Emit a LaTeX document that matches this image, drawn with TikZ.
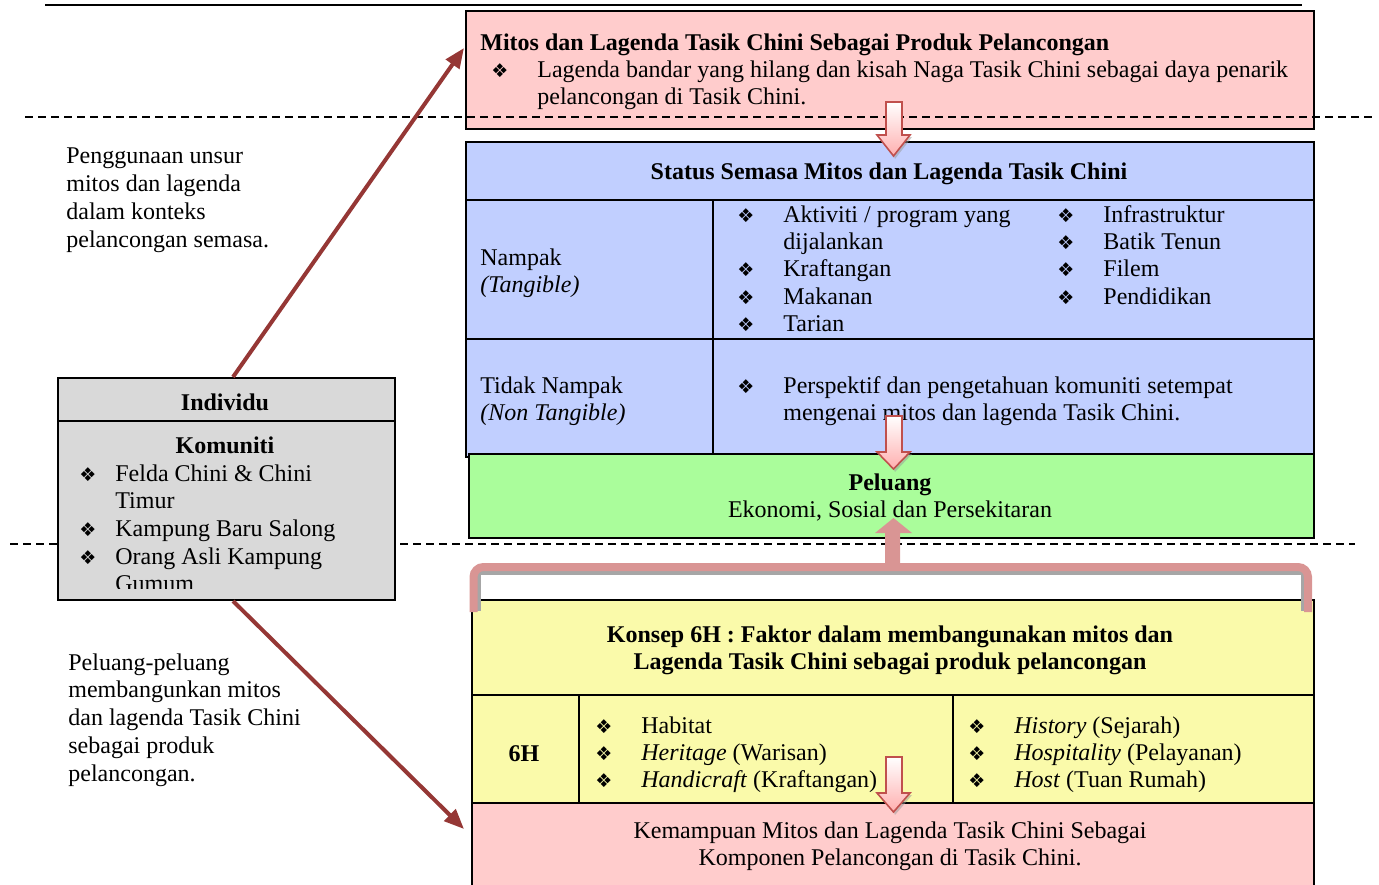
\documentclass[tikz,border=0pt]{standalone}
\usepackage{fontspec}
\setmainfont{Liberation Serif}
\newfontfamily\dejavu{DejaVu Sans}
\usetikzlibrary{arrows.meta}

\definecolor{pinkfill}{RGB}{255,204,204}
\definecolor{bluefill}{RGB}{193,207,255}
\definecolor{greenfill}{RGB}{170,253,155}
\definecolor{yellowfill}{RGB}{250,250,170}
\definecolor{greyfill}{RGB}{217,217,217}
\definecolor{darkred}{RGB}{149,55,53}
\definecolor{brackpink}{RGB}{217,149,148}
\definecolor{arrowred}{RGB}{192,80,77}
\definecolor{arrowpink}{RGB}{255,175,175}

\newcommand\bul{{\dejavu\fontsize{9.5}{9.5}\selectfont ❖}}
\newcommand\blist[2]{\begin{tabular}[t]{@{}p{#1}@{}l@{}}#2\end{tabular}}
\newcommand\lines[2][l]{\begin{tabular}[t]{@{}#1@{}}#2\end{tabular}}

\begin{document}
\begin{tikzpicture}
	[x=0.5pt,y=-0.5pt,every node/.style={inner sep=0pt,font=\fontsize{12}{13.7}\selectfont},
	box/.style={draw,line width=1pt,anchor=north west},
	dashline/.style={dash pattern=on 4pt off 2.5pt,line width=0.6pt},
	hollow/.style={draw=arrowred,line width=0.8pt,top color=white,bottom color=arrowpink},
	redarrow/.style={draw=darkred,line width=2pt,-{Triangle[length=10pt,width=8pt]}}]
	\useasboundingbox (0,0) rectangle (1379,884);
	
	\draw[line width=1pt] (45,5) -- (1302,5);
	
	% mitos sebagai produk
	\node[box,fill=pinkfill,minimum width=424pt,minimum height=59pt] (mitos) at (465,10) {};
	\node[anchor=base west,font=\fontsize{12}{13.7}\selectfont\bfseries] (mitostitle) at (480,50)
		{Mitos dan Lagenda Tasik Chini Sebagai Produk Pelancongan};
	\node[anchor=base west] (mitoslist) at (491,77)
		{\blist{23pt}{\bul & Lagenda bandar yang hilang dan kisah Naga Tasik Chini sebagai daya penarik\\
			& pelancongan di Tasik Chini.}};
	
	\draw[dashline] (25,117) -- (1375,117);
	
	% status semasa
	\node[box,fill=bluefill,minimum width=424pt,minimum height=157.5pt] (status) at (465,141) {};
	\draw[line width=1pt] (465,200) -- (1313,200);
	\draw[line width=1pt] (465,339) -- (1313,339);
	\draw[line width=1pt] (713,200) -- (713,453);
	\node[anchor=base,font=\fontsize{12}{13.7}\selectfont\bfseries] (statustitle) at (889,179)
		{Status Semasa Mitos dan Lagenda Tasik Chini};
	\node[anchor=base west] (nampak) at (480,265) {\lines{Nampak\\ \textit{(Tangible)}}};
	\node[anchor=base west] (nampaka) at (737,222)
		{\blist{23pt}{\bul & Aktiviti / program yang\\ & dijalankan\\ \bul & Kraftangan\\
			\bul & Makanan\\ \bul & Tarian}};
	\node[anchor=base west] (nampakb) at (1057,222)
		{\blist{23pt}{\bul & Infrastruktur\\ \bul & Batik Tenun\\ \bul & Filem\\ \bul & Pendidikan}};
	\node[anchor=base west] (tidak) at (480,393) {\lines{Tidak Nampak\\ \textit{(Non Tangible)}}};
	\node[anchor=base west] (tidaka) at (737,393)
		{\blist{23pt}{\bul & Perspektif dan pengetahuan komuniti setempat\\
			& mengenai mitos dan lagenda Tasik Chini.}};
	
	% peluang
	\node[box,fill=greenfill,minimum width=422.5pt,minimum height=42pt] (peluang) at (468,453) {};
	\node[anchor=base] (peluangtext) at (890,490)
		{\lines[c]{\textbf{Peluang}\\ Ekonomi, Sosial dan Persekitaran}};
	
	\draw[dashline] (10,544) -- (1355,544);
	
	% individu
	\node[box,fill=greyfill,minimum width=168.5pt,minimum height=111pt] (individu) at (57,377) {};
	
	% anak panah dari individu
	\coordinate (tipa) at (464,48);
	\coordinate (tipb) at (464,829);
	\draw[redarrow] ([xshift=3.25pt]individu.north) -- (tipa);
	\draw[redarrow] ([xshift=3.25pt]individu.south) -- (tipb);
	
	% konsep 6H
	\node[box,fill=yellowfill,minimum width=421pt,minimum height=101.5pt] (konsep) at (471,599) {};
	\draw[line width=1pt] (471,695) -- (1313,695);
	\draw[line width=1pt] (579,695) -- (579,802);
	\draw[line width=1pt] (953,695) -- (953,802);
	\node[anchor=base,font=\fontsize{12}{13.7}\selectfont\bfseries] (konseptitle) at (890,642)
		{\lines[c]{Konsep 6H : Faktor dalam membangunakan mitos dan\\
			Lagenda Tasik Chini sebagai produk pelancongan}};
	\node[anchor=base,font=\fontsize{12}{13.7}\selectfont\bfseries] (enamh) at (524,761) {6H};
	\node[anchor=base west] (konsepa) at (595,733)
		{\blist{23pt}{\bul & Habitat\\ \bul & \textit{Heritage} (Warisan)\\
			\bul & \textit{Handicraft} (Kraftangan)}};
	\node[anchor=base west] (konsepb) at (968,733)
		{\blist{23pt}{\bul & \textit{History} (Sejarah)\\ \bul & \textit{Hospitality} (Pelayanan)\\
			\bul & \textit{Host} (Tuan Rumah)}};
	
	% kemampuan
	\node[box,fill=pinkfill,minimum width=421pt,minimum height=45pt] (kemampuan) at (471,802) {};
	\node[anchor=base] (kemampuantext) at (890,838)
		{\lines[c]{Kemampuan Mitos dan Lagenda Tasik Chini Sebagai\\ Komponen Pelancongan di Tasik Chini.}};
	
	% kurungan dan anak panah ke atas
	\draw[black!35,line width=2pt] (479,611) -- (479,573) -- (1303,573) -- (1303,611);
	\draw[brackpink,line width=4pt,rounded corners=5pt] (473.5,612) -- (473.5,567) -- (1308,567) -- (1308,612);
	\fill[brackpink] (885,567) -- (885,533) -- (875,533) -- (893.5,518) -- (912,533) -- (900,533) -- (900,567) -- cycle;
	
	\foreach \top/\neck/\tip in {102/135/156, 416/452/469, 757/793/812}
	{
		\fill[black!40,opacity=0.5] (887,\neck+2) -- (912,\neck+2) -- (895,\tip+3) -- cycle;
		\draw[hollow] (886,\top) -- (902,\top) -- (902,\neck) -- (910,\neck) -- (893.5,\tip)
			-- (877,\neck) -- (886,\neck) -- cycle;
	}
	
	% individu, isi
	\draw[line width=1pt] (57,421) -- (394,421);
	\node[anchor=base,font=\fontsize{12}{13.7}\selectfont\bfseries] (individutitle) at (225,410) {Individu};
	\node[anchor=base,font=\fontsize{12}{13.7}\selectfont\bfseries] (komuniti) at (225,453) {Komuniti};
	\begin{scope}
		\clip (58,421) rectangle (393,588);
		\node[anchor=base west,font=\fontsize{12}{13.85}\selectfont] (komunitilist) at (79,481)
			{\blist{18pt}{\bul & Felda Chini \& Chini\\ & Timur\\ \bul & Kampung Baru Salong\\
				\bul & Orang Asli Kampung\\ & Gumum}};
	\end{scope}
	
	% teks kiri
	\node[anchor=base west,font=\fontsize{12}{14}\selectfont] (guna) at (66,163)
		{\lines{Penggunaan unsur\\ mitos dan lagenda\\ dalam konteks\\ pelancongan semasa.}};
	\node[anchor=base west,font=\fontsize{12}{13.9}\selectfont] (bangun) at (68,670)
		{\lines{Peluang-peluang\\ membangunkan mitos\\ dan lagenda Tasik Chini\\ sebagai produk\\ pelancongan.}};
\end{tikzpicture}
\end{document}
